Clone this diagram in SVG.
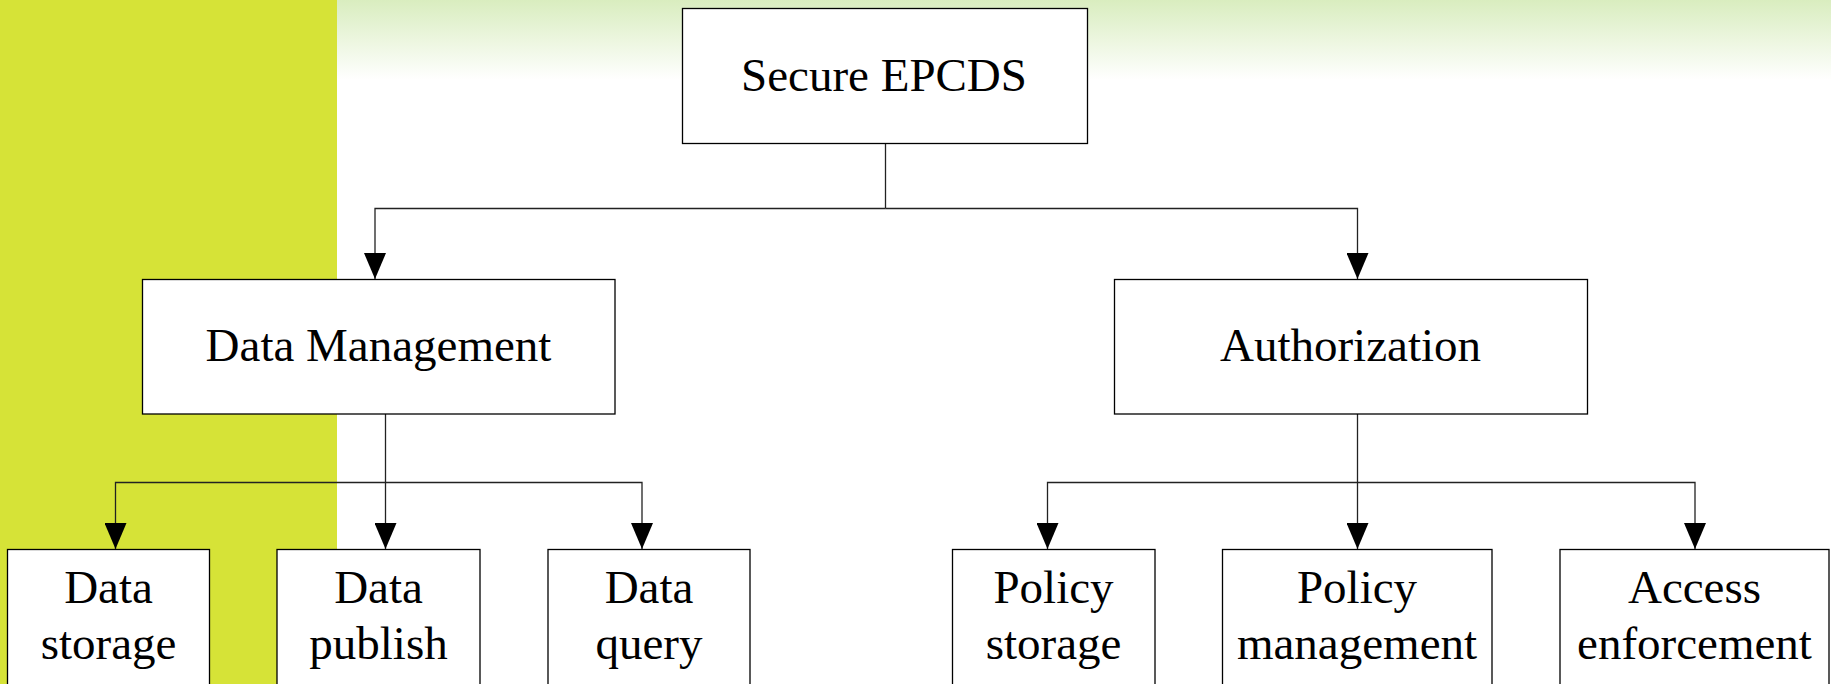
<svg xmlns="http://www.w3.org/2000/svg" width="1831" height="684" viewBox="0 0 1831 684">
  <defs>
    <linearGradient id="topfade" x1="0" y1="0" x2="0" y2="1">
      <stop offset="0" stop-color="#d9edbf"/>
      <stop offset="1" stop-color="#ffffff"/>
    </linearGradient>
    <marker id="arrow" markerUnits="userSpaceOnUse" markerWidth="26" markerHeight="22" refX="26" refY="11" orient="auto">
      <path d="M0,0 L26,11 L0,22 Z" fill="#000"/>
    </marker>
  </defs>
  <style>
    .box { fill: #ffffff; stroke: #000; stroke-width: 1.3; }
    .lbl { font-family: "Liberation Serif", "Times New Roman", serif; font-size: 47px; fill: #000; text-anchor: middle; }
    .conn { fill: none; stroke: #222; stroke-width: 1.3; marker-end: url(#arrow); }
    .seg { fill: none; stroke: #222; stroke-width: 1.3; }
  </style>

  <!-- background -->
  <rect x="0" y="0" width="1831" height="684" fill="#ffffff"/>
  <rect x="337" y="0" width="1494" height="80" fill="url(#topfade)"/>
  <rect x="0" y="0" width="337" height="684" fill="#d6e337"/>

  <!-- connectors -->
  <g id="connectors">
    <path class="seg" d="M885.5,144 V208.5"/>
    <path class="conn" d="M885.5,208.5 H375 V279"/>
    <path class="conn" d="M885.5,208.5 H1357.5 V279"/>
    <path class="conn" d="M385.5,414 V549"/>
    <path class="conn" d="M385.5,482.5 H115.5 V549"/>
    <path class="conn" d="M385.5,482.5 H642 V549"/>
    <path class="conn" d="M1357.5,414 V549"/>
    <path class="conn" d="M1357.5,482.5 H1047.5 V549"/>
    <path class="conn" d="M1357.5,482.5 H1695 V549"/>
  </g>

  <g id="secure-epcds">
    <rect class="box" x="682.5" y="8.5" width="405" height="135"/>
    <text class="lbl" x="884" y="91">Secure EPCDS</text>
  </g>
  <g id="data-management">
    <rect class="box" x="142.5" y="279.5" width="472.5" height="134.5"/>
    <text class="lbl" x="378.5" y="361">Data Management</text>
  </g>
  <g id="authorization">
    <rect class="box" x="1114.5" y="279.5" width="473" height="134.5"/>
    <text class="lbl" x="1350.5" y="361">Authorization</text>
  </g>
  <g id="data-storage">
    <rect class="box" x="7.5" y="549.5" width="202" height="160"/>
    <text class="lbl" x="108.5" y="603">Data</text>
    <text class="lbl" x="108.5" y="659">storage</text>
  </g>
  <g id="data-publish">
    <rect class="box" x="277" y="549.5" width="203" height="160"/>
    <text class="lbl" x="378.5" y="603">Data</text>
    <text class="lbl" x="378.5" y="659">publish</text>
  </g>
  <g id="data-query">
    <rect class="box" x="548" y="549.5" width="202" height="160"/>
    <text class="lbl" x="649" y="603">Data</text>
    <text class="lbl" x="649" y="659">query</text>
  </g>
  <g id="policy-storage">
    <rect class="box" x="952.5" y="549.5" width="202.5" height="160"/>
    <text class="lbl" x="1053.5" y="603">Policy</text>
    <text class="lbl" x="1053.5" y="659">storage</text>
  </g>
  <g id="policy-management">
    <rect class="box" x="1222.5" y="549.5" width="269.5" height="160"/>
    <text class="lbl" x="1357" y="603">Policy</text>
    <text class="lbl" x="1357" y="659">management</text>
  </g>
  <g id="access-enforcement">
    <rect class="box" x="1560" y="549.5" width="269" height="160"/>
    <text class="lbl" x="1694.5" y="603">Access</text>
    <text class="lbl" x="1694.5" y="659">enforcement</text>
  </g>
</svg>
